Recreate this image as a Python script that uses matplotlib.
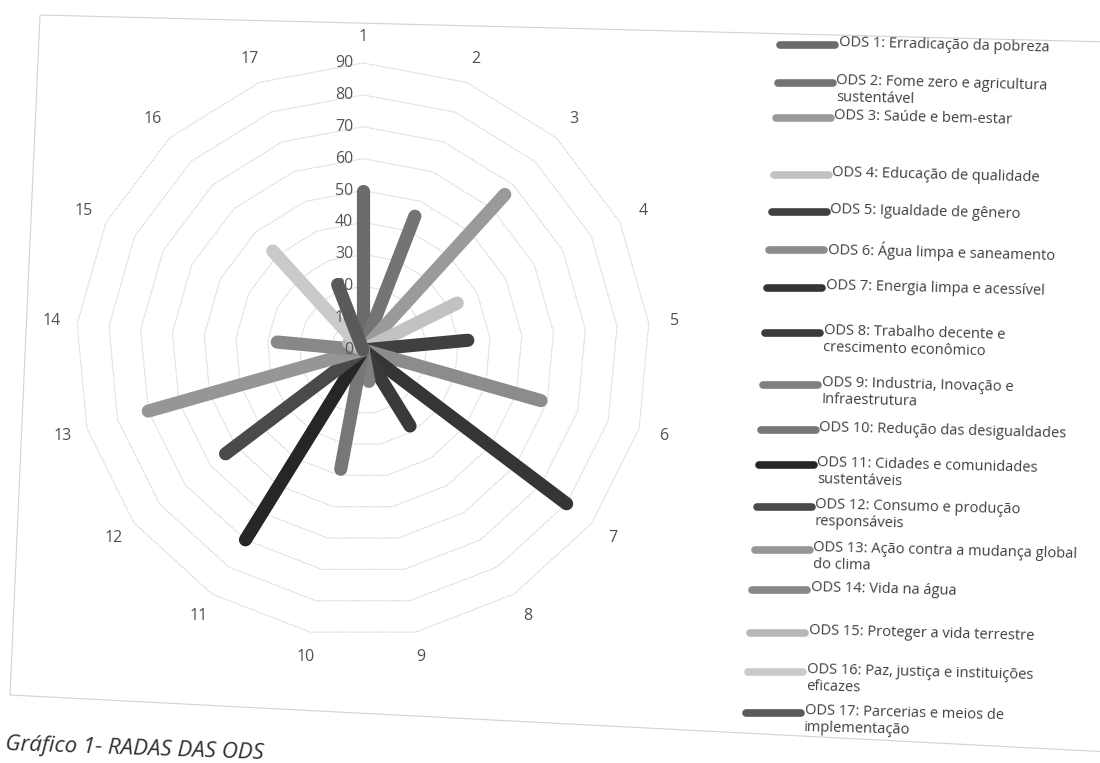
import matplotlib.pyplot as plt
from matplotlib.patches import Polygon
import numpy as np

plt.rcParams['font.family'] = ['Open Sans', 'DejaVu Sans']

# data (one spike per ODS)
categories = [str(i) for i in range(1, 18)]
values = [50, 45, 66, 33, 33, 58, 80, 28, 10, 38, 70, 54, 70, 27, 5, 42, 22]
colors = ['#6b6b6b', '#747474', '#9a9a9a', '#c2c2c2', '#404040', '#8c8c8c',
          '#353535', '#3a3a3a', '#808080', '#777777', '#262626', '#4a4a4a',
          '#969696', '#888888', '#b8b8b8', '#cacaca', '#5a5a5a']
labels = [
    'ODS 1: Erradicação da pobreza',
    'ODS 2: Fome zero e agricultura\nsustentável',
    'ODS 3: Saúde e bem-estar',
    'ODS 4: Educação de qualidade',
    'ODS 5: Igualdade de gênero',
    'ODS 6: Água limpa e saneamento',
    'ODS 7: Energia limpa e acessível',
    'ODS 8: Trabalho decente e\ncrescimento econômico',
    'ODS 9: Industria, Inovação e\nInfraestrutura',
    'ODS 10: Redução das desigualdades',
    'ODS 11: Cidades e comunidades\nsustentáveis',
    'ODS 12: Consumo e produção\nresponsáveis',
    'ODS 13: Ação contra a mudança global\ndo clima',
    'ODS 14: Vida na água',
    'ODS 15: Proteger a vida terrestre',
    'ODS 16: Paz, justiça e instituições\neficazes',
    'ODS 17: Parcerias e meios de\nimplementação',
]
rings = list(range(0, 100, 10))

W, H = 1100, 763
fig = plt.figure(figsize=(11, 7.63), dpi=100)

# chart border (the scanned page is slightly skewed)
border = Polygon([(40 / W, 1 - 15 / H), (1110 / W, 1 - 42 / H),
                  (1110 / W, 1 - 752 / H), (10 / W, 1 - 695 / H)],
                 closed=True, fill=False, edgecolor='#d2d2d2', lw=0.8,
                 transform=fig.transFigure)
fig.add_artist(border)

# radar axes: centre (363, 350) px, radius 287 px for 90
cx, cy, R = 363, 350, 287
ax = fig.add_axes([(cx - R) / W, (H - cy - R) / H, 2 * R / W, 2 * R / H],
                  projection='polar')
ax.set_theta_zero_location('N')
ax.set_theta_direction(-1)
ax.set_ylim(0, 90)
ax.set_axis_off()

n = len(categories)
theta = np.arange(n) * 2 * np.pi / n
closed = np.append(theta, theta[0])

# polygon gridlines
for r in rings[1:]:
    ax.plot(closed, [r] * (n + 1), color='#c8c8c8', lw=0.8,
            linestyle=(0, (1, 1)), clip_on=False, zorder=1)

# radial labels
for r in rings:
    ax.annotate(str(r), xy=(0, r), xytext=(-7, 0), textcoords='offset points',
                ha='right', va='center', fontsize=11.5, color='#555555',
                zorder=5)

# category labels
for th, c in zip(theta, categories):
    ax.text(th, 98, c, ha='center', va='center', fontsize=11.5,
            color='#505050')

# spikes
for th, v, col in zip(theta, values, colors):
    ax.plot([th, th], [0, v], color=col, lw=9.5, solid_capstyle='round',
            zorder=3)

# legend drawn by hand to follow the scanned layout
leg_y = [45, 83, 118, 175, 212, 250, 288, 333, 385, 430, 465, 507, 550, 590,
         633, 672, 713]
for i, (lab, col, y) in enumerate(zip(labels, colors, leg_y)):
    shift = 34 * i / (n - 1)
    x0 = 780 - shift
    fig.add_artist(plt.Line2D([x0 / W, (x0 + 55) / W], [1 - y / H, 1 - y / H],
                              color=col, lw=5.5, solid_capstyle='round',
                              transform=fig.transFigure))
    fig.text((x0 + 59) / W, 1 - (y - 10) / H, lab, ha='left', va='top',
             fontsize=10.5, color='#404040', linespacing=1.15, rotation=-1.5,
             rotation_mode='anchor')

# caption
fig.text(5 / W, 1 - 745 / H, 'Gráfico 1- RADAS DAS ODS', ha='left',
         va='center', fontsize=16, style='italic', color='#303030',
         rotation=-2, rotation_mode='anchor')

fig.savefig('out.png', dpi=100)
